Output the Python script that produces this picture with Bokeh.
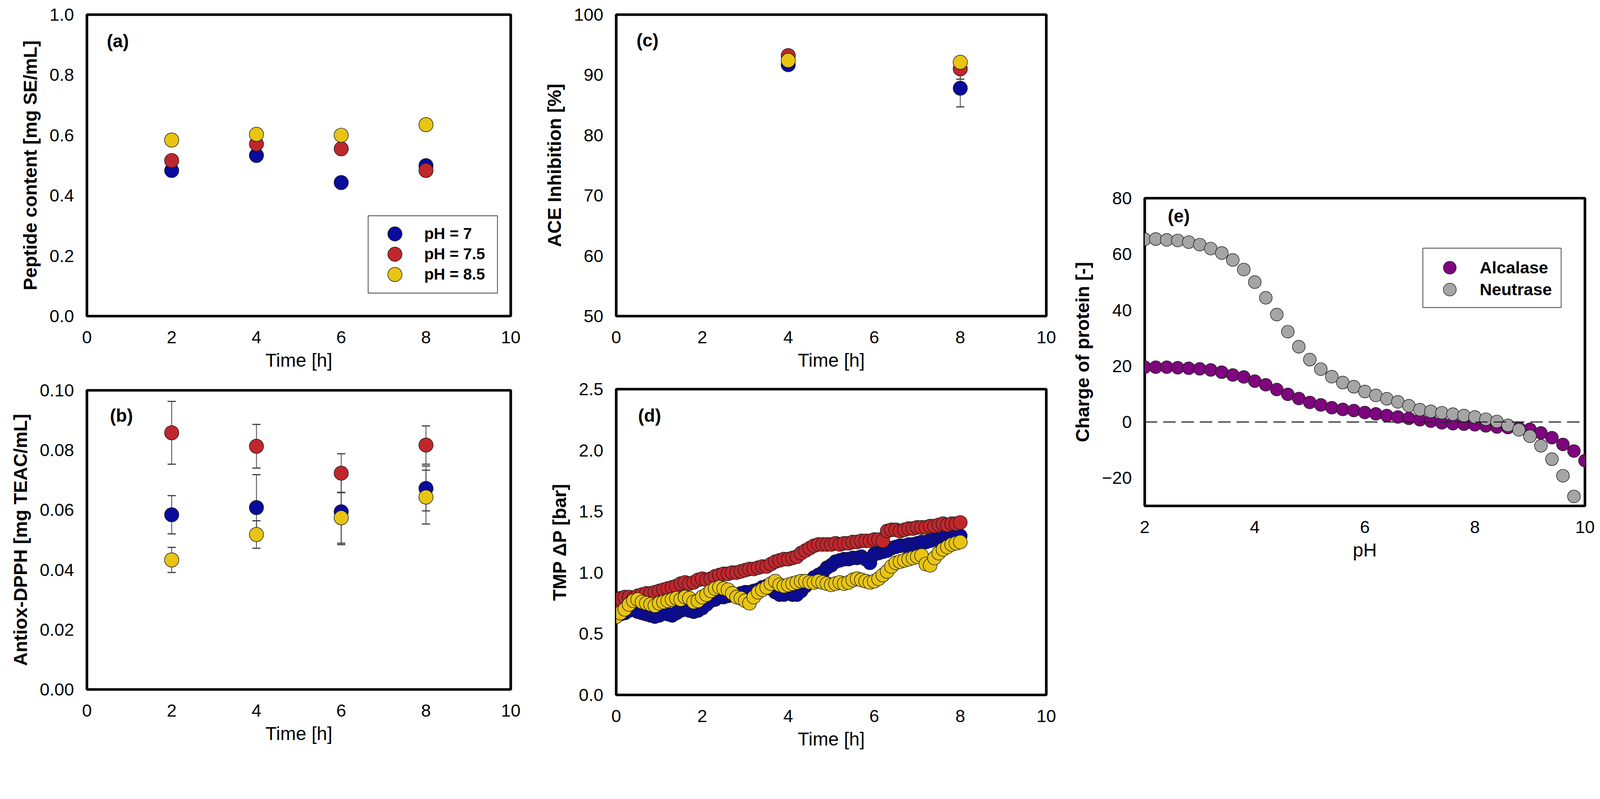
from bokeh.plotting import figure
from bokeh.models import (Range1d, FixedTicker, Label, Legend, LegendItem, Whisker, BoxAnnotation,
                          ColumnDataSource, TeeHead, PrintfTickFormatter, CustomJSTickFormatter)
from bokeh.layouts import row, column
from bokeh.embed import file_html
from bokeh.resources import INLINE

# global scale so that the rendered page fits the window
S = 0.96


def px(v):
    return int(round(v * S))


def fs(v):
    return f"{v * S:.1f}px"


FONT = "Liberation Sans"
BLUE = "#0A0A9C"
RED = "#C0272D"
YELLOW = "#E8C413"
PURPLE = "#7E057E"
GRAY = "#A5A5A5"
EDGE = "#1a1a1a"

# ---------------- (a) peptide content ----------------
hours = [2, 4, 6, 8]
peptide_ph7 = [0.483, 0.533, 0.443, 0.499]
peptide_ph75 = [0.516, 0.571, 0.555, 0.483]
peptide_ph85 = [0.584, 0.603, 0.600, 0.635]

# ---------------- (b) antioxidant DPPH ----------------
dpph_ph7 = [0.0584, 0.0608, 0.0594, 0.0672]
dpph_ph7_err = [0.0064, 0.0110, 0.0110, 0.0075]
dpph_ph75 = [0.0858, 0.0813, 0.0723, 0.0817]
dpph_ph75_err = [0.0105, 0.0073, 0.0065, 0.0064]
dpph_ph85 = [0.0433, 0.0518, 0.0574, 0.0643]
dpph_ph85_err = [0.0042, 0.0046, 0.0085, 0.0090]

# ---------------- (c) ACE inhibition ----------------
ace_hours = [4, 8]
ace_ph7 = [91.7, 87.8]
ace_ph7_err = [0.4, 3.1]
ace_ph75 = [93.2, 91.0]
ace_ph75_err = [0.4, 1.7]
ace_ph85 = [92.4, 92.1]
ace_ph85_err = [0.3, 0.4]

# ---------------- (d) TMP ----------------
tmp_time = [0.0, 0.1, 0.2, 0.3, 0.4, 0.5, 0.6, 0.7, 0.8, 0.9,
            1.0, 1.1, 1.2, 1.3, 1.4, 1.5, 1.6, 1.7, 1.8, 1.9,
            2.0, 2.1, 2.2, 2.3, 2.4, 2.5, 2.6, 2.7, 2.8, 2.9,
            3.0, 3.1, 3.2, 3.3, 3.4, 3.5, 3.6, 3.7, 3.8, 3.9,
            4.0, 4.1, 4.2, 4.3, 4.4, 4.5, 4.6, 4.7, 4.8, 4.9,
            5.0, 5.1, 5.2, 5.3, 5.4, 5.5, 5.6, 5.7, 5.8, 5.9,
            6.0, 6.1, 6.2, 6.3, 6.4, 6.5, 6.6, 6.7, 6.8, 6.9,
            7.0, 7.1, 7.2, 7.3, 7.4, 7.5, 7.6, 7.7, 7.8, 7.9, 8.0]
tmp_ph7 = [0.64, 0.66, 0.67, 0.69, 0.70, 0.68, 0.67, 0.66, 0.65, 0.64,
           0.65, 0.67, 0.66, 0.65, 0.67, 0.69, 0.70, 0.69, 0.68, 0.69,
           0.71, 0.74, 0.77, 0.78, 0.80, 0.80, 0.81, 0.82, 0.82, 0.83,
           0.84, 0.84, 0.85, 0.86, 0.88, 0.89, 0.87, 0.84, 0.82, 0.82,
           0.83, 0.82, 0.82, 0.85, 0.89, 0.93, 0.96, 0.98, 1.00, 1.04,
           1.06, 1.09, 1.10, 1.11, 1.11, 1.12, 1.12, 1.13, 1.11, 1.08,
           1.15, 1.16, 1.17, 1.18, 1.20, 1.21, 1.22, 1.22, 1.23, 1.23,
           1.24, 1.25, 1.25, 1.26, 1.27, 1.27, 1.28, 1.28, 1.29, 1.30, 1.30]
tmp_ph75 = [0.77, 0.79, 0.80, 0.80, 0.79, 0.81, 0.82, 0.83, 0.83, 0.84,
            0.85, 0.86, 0.87, 0.88, 0.89, 0.91, 0.92, 0.91, 0.92, 0.94,
            0.95, 0.94, 0.95, 0.97, 0.98, 0.99, 0.99, 1.00, 1.00, 1.01,
            1.02, 1.03, 1.03, 1.04, 1.05, 1.05, 1.07, 1.09, 1.10, 1.11,
            1.11, 1.12, 1.13, 1.16, 1.18, 1.20, 1.22, 1.23, 1.23, 1.23,
            1.23, 1.24, 1.23, 1.24, 1.24, 1.25, 1.25, 1.26, 1.26, 1.26,
            1.27, 1.27, 1.26, 1.34, 1.35, 1.35, 1.34, 1.35, 1.36, 1.36,
            1.37, 1.37, 1.37, 1.38, 1.38, 1.39, 1.40, 1.39, 1.40, 1.40, 1.41]
tmp_ph85 = [0.64, 0.67, 0.70, 0.74, 0.77, 0.78, 0.76, 0.75, 0.74, 0.73,
            0.75, 0.76, 0.77, 0.78, 0.79, 0.78, 0.80, 0.79, 0.76, 0.77,
            0.80, 0.82, 0.85, 0.87, 0.88, 0.87, 0.86, 0.83, 0.80, 0.79,
            0.77, 0.75, 0.80, 0.84, 0.86, 0.88, 0.91, 0.93, 0.90, 0.89,
            0.90, 0.91, 0.92, 0.93, 0.93, 0.92, 0.92, 0.93, 0.92, 0.91,
            0.90, 0.91, 0.92, 0.91, 0.92, 0.94, 0.95, 0.94, 0.93, 0.92,
            0.93, 0.95, 0.98, 1.01, 1.05, 1.08, 1.09, 1.10, 1.11, 1.12,
            1.13, 1.14, 1.07, 1.06, 1.12, 1.16, 1.19, 1.21, 1.23, 1.24, 1.25]

# ---------------- (e) protein charge ----------------
ph_alcalase = [2.0, 2.2, 2.4, 2.6, 2.8, 3.0, 3.2, 3.4, 3.6, 3.8,
               4.0, 4.2, 4.4, 4.6, 4.8, 5.0, 5.2, 5.4, 5.6, 5.8,
               6.0, 6.2, 6.4, 6.6, 6.8, 7.0, 7.2, 7.4, 7.6, 7.8,
               8.0, 8.2, 8.4, 8.6, 8.8, 9.0, 9.2, 9.4, 9.6, 9.8, 10.0]
charge_alcalase = [19.6, 19.6, 19.6, 19.4, 19.2, 19.0, 18.6, 17.8, 16.8, 16.1,
                   14.6, 13.3, 11.6, 9.9, 8.4, 7.0, 6.1, 5.1, 4.5, 4.1,
                   3.4, 2.9, 2.3, 1.8, 1.3, 0.8, 0.3, -0.3, -0.6, -0.8,
                   -1.0, -1.4, -1.8, -2.0, -2.2, -2.6, -3.9, -5.6, -8.0, -10.4, -13.8]
ph_neutrase = [2.0, 2.2, 2.4, 2.6, 2.8, 3.0, 3.2, 3.4, 3.6, 3.8,
               4.0, 4.2, 4.4, 4.6, 4.8, 5.0, 5.2, 5.4, 5.6, 5.8,
               6.0, 6.2, 6.4, 6.6, 6.8, 7.0, 7.2, 7.4, 7.6, 7.8,
               8.0, 8.2, 8.4, 8.6, 8.8, 9.0, 9.2, 9.4, 9.6, 9.8]
charge_neutrase = [65.3, 65.4, 65.1, 64.9, 64.3, 63.4, 62.0, 60.4, 57.9, 54.5,
                   50.0, 44.4, 38.4, 32.3, 26.9, 22.3, 18.9, 16.2, 14.1, 12.6,
                   10.9, 9.5, 8.3, 7.2, 5.8, 4.4, 3.8, 3.3, 2.8, 2.3,
                   1.8, 1.0, 0.2, -1.2, -2.8, -5.1, -8.5, -13.3, -19.2, -26.6]

time_ticks = [0, 2, 4, 6, 8, 10]


def make_fig(w, h, left, right, top, bottom, xr, yr, xticks, yticks, xlabel, ylabel, yfmt):
    p = figure(width=px(w), height=px(h), output_backend="svg", toolbar_location=None, title=None,
               x_range=Range1d(*xr), y_range=Range1d(*yr),
               min_border_left=px(left), min_border_right=px(right),
               min_border_top=px(top), min_border_bottom=px(bottom))
    p.xgrid.visible = False
    p.ygrid.visible = False
    p.outline_line_color = "black"
    p.outline_line_width = 7 * S
    p.outline_line_alpha = 1
    p.background_fill_color = "white"
    p.border_fill_color = "white"
    for ax, ticks in ((p.xaxis[0], xticks), (p.yaxis[0], yticks)):
        ax.ticker = FixedTicker(ticks=ticks)
        ax.axis_line_color = None
        ax.major_tick_line_color = None
        ax.minor_tick_line_color = None
        ax.major_label_text_font = FONT
        ax.major_label_text_font_size = fs(47)
        ax.major_label_text_color = "black"
        ax.axis_label_text_font = FONT
        ax.axis_label_text_font_size = fs(50)
        ax.axis_label_text_color = "black"
    p.xaxis.major_label_standoff = px(33)
    p.xaxis.axis_label_standoff = px(15)
    p.yaxis.major_label_standoff = px(28)
    p.yaxis.axis_label_standoff = px(21)
    p.xaxis.axis_label = xlabel
    p.xaxis.axis_label_text_font_style = "normal"
    p.yaxis.axis_label = ylabel
    p.yaxis.axis_label_text_font_style = "bold"
    p.xaxis.formatter = PrintfTickFormatter(format="%d")
    p.yaxis.formatter = yfmt
    return p


def panel_label(p, text, dx, dy_from_top, frame_h):
    p.add_layout(Label(x=px(dx), y=px(frame_h - dy_from_top), x_units="screen", y_units="screen",
                       text=text, text_font=FONT, text_font_size=fs(48),
                       text_font_style="bold", text_baseline="middle", text_color="black"))


def whiskers(p, xs, ys, errs):
    src = ColumnDataSource(dict(x=xs, upper=[y + e for y, e in zip(ys, errs)],
                                lower=[y - e for y, e in zip(ys, errs)]))
    w = Whisker(source=src, base="x", upper="upper", lower="lower", dimension="height",
                line_color="#3a3a3a", line_width=2 * S,
                upper_head=TeeHead(size=px(22), line_color="#3a3a3a", line_width=3 * S),
                lower_head=TeeHead(size=px(22), line_color="#3a3a3a", line_width=3 * S))
    w.level = "underlay"
    p.add_layout(w)


def dots(p, xs, ys, color, size=38):
    return p.scatter(xs, ys, size=size * S, fill_color=color, line_color=EDGE, line_width=1.5 * S)


def boxed_legend(p, entries, box, glyph, x_left, y_bottoms, standoff, font_px, label_w):
    """box = (left, right, bottom, top) in frame screen px; one single-item legend per row."""
    l, r, b, t = box
    p.add_layout(BoxAnnotation(left=px(l), right=px(r), bottom=px(b), top=px(t),
                               left_units="screen", right_units="screen",
                               bottom_units="screen", top_units="screen",
                               fill_color="white", fill_alpha=1.0,
                               line_color="#404040", line_width=2 * S, line_alpha=1.0))
    for (label, rend), yb in zip(entries, y_bottoms):
        leg = Legend(items=[LegendItem(label=label, renderers=[rend])],
                     location=(px(x_left), px(yb)))
        leg.padding = 0
        leg.margin = 0
        leg.spacing = 0
        leg.glyph_width = px(glyph)
        leg.glyph_height = px(glyph)
        leg.label_height = px(glyph)
        leg.label_width = px(label_w)
        leg.label_standoff = px(standoff)
        leg.label_text_font = FONT
        leg.label_text_font_size = fs(font_px)
        leg.label_text_font_style = "bold"
        leg.label_text_color = "black"
        leg.border_line_color = None
        leg.background_fill_alpha = 0
        p.add_layout(leg, "center")


# ---- panel a ----
pa = make_fig(1420, 1005, 215, 58, 39, 162, (0, 10), (0, 1.0), time_ticks,
              [0, 0.2, 0.4, 0.6, 0.8, 1.0], "Time [h]", "Peptide content [mg SE/mL]",
              PrintfTickFormatter(format="%.1f"))
ra1 = dots(pa, hours, peptide_ph7, BLUE)
ra2 = dots(pa, hours, peptide_ph75, RED)
ra3 = dots(pa, hours, peptide_ph85, YELLOW)
panel_label(pa, "(a)", 53, 70, 804)
boxed_legend(pa, [("pH = 7", ra1), ("pH = 7.5", ra2), ("pH = 8.5", ra3)],
             (750, 1095, 61, 268), 95, 773.5, [171.5, 117.5, 63.5], 31.5, 42, 150)

# ---- panel b ----
pb = make_fig(1420, 1025, 231, 50, 35, 192, (0, 10), (0, 0.10), time_ticks,
              [0, 0.02, 0.04, 0.06, 0.08, 0.10], "Time [h]", "Antiox-DPPH [mg TEAC/mL]",
              PrintfTickFormatter(format="%.2f"))
whiskers(pb, hours, dpph_ph7, dpph_ph7_err)
whiskers(pb, hours, dpph_ph75, dpph_ph75_err)
whiskers(pb, hours, dpph_ph85, dpph_ph85_err)
dots(pb, hours, dpph_ph7, BLUE)
dots(pb, hours, dpph_ph75, RED)
dots(pb, hours, dpph_ph85, YELLOW)
panel_label(pb, "(b)", 61, 67, 798)

# ---- panel c ----
pc = make_fig(1432, 1005, 223, 62, 39, 162, (0, 10), (50, 100), time_ticks,
              [50, 60, 70, 80, 90, 100], "Time [h]", "ACE Inhibition [%]",
              PrintfTickFormatter(format="%d"))
whiskers(pc, ace_hours, ace_ph7, ace_ph7_err)
whiskers(pc, ace_hours, ace_ph75, ace_ph75_err)
whiskers(pc, ace_hours, ace_ph85, ace_ph85_err)
dots(pc, ace_hours, ace_ph7, BLUE)
dots(pc, ace_hours, ace_ph75, RED)
dots(pc, ace_hours, ace_ph85, YELLOW)
panel_label(pc, "(c)", 54, 68, 804)

# ---- panel d ----
pd_ = make_fig(1432, 1025, 219, 50, 32, 177, (0, 10), (0, 2.5), time_ticks,
               [0, 0.5, 1.0, 1.5, 2.0, 2.5], "Time [h]", "TMP ΔP [bar]",
               PrintfTickFormatter(format="%.1f"))
dots(pd_, tmp_time, tmp_ph7, BLUE, 37)
dots(pd_, tmp_time, tmp_ph75, RED, 37)
dots(pd_, tmp_time, tmp_ph85, YELLOW, 37)
panel_label(pd_, "(d)", 58, 70, 816)

# ---- panel e ----
pe = make_fig(1414, 2030, 200, 40, 528, 681, (2, 10), (-30, 80), [2, 4, 6, 8, 10],
              [-20, 0, 20, 40, 60, 80], "pH", "Charge of protein [-]",
              CustomJSTickFormatter(code="return tick < 0 ? '\u2212' + Math.abs(tick) : String(tick);"))
re1 = dots(pe, ph_alcalase, charge_alcalase, PURPLE, 34)
re2 = dots(pe, ph_neutrase, charge_neutrase, GRAY, 34)
pe.line([2, 10], [0, 0], line_color="#222222", line_width=3 * S, line_dash="32 15")
panel_label(pe, "(e)", 61, 47, 821)
boxed_legend(pe, [("Alcalase", re1), ("Neutrase", re2)],
             (742, 1110, 529, 687), 85, 770.5, [592.5, 534.5], 37.5, 45, 190)

layout = row(column(pa, pb), column(pc, pd_), pe)
open("out.html", "w").write(file_html(layout, INLINE))
